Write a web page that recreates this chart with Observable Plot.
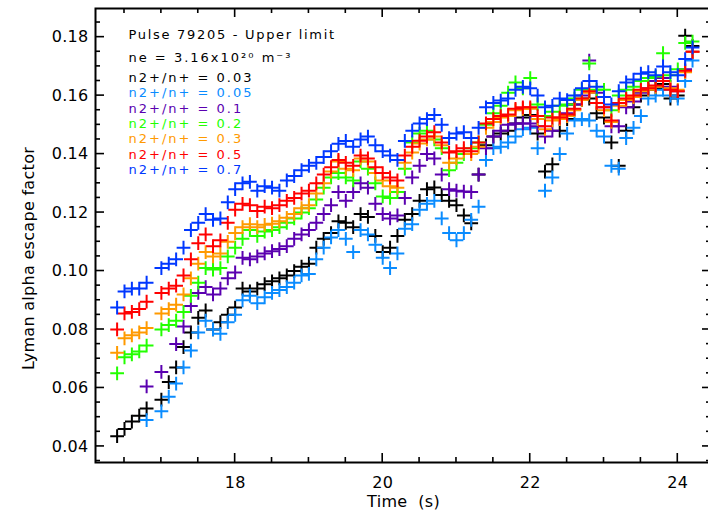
<!DOCTYPE html>
<html><head><meta charset="utf-8">
<script src="https://cdn.jsdelivr.net/npm/d3@7"></script>
<script src="https://cdn.jsdelivr.net/npm/@observablehq/plot@0.6"></script>
<style>
html,body{margin:0;padding:0;background:#fff;overflow:hidden;}
svg text{font-family:"DejaVu Sans",sans-serif;}
.leg text{letter-spacing:2px;}
.legt text{letter-spacing:1.7px;}
.legn text{letter-spacing:2px;}
.ticklab text{letter-spacing:0.3px;}
</style>
</head><body><div id="chart"></div>
<script>
const times = [16.4,16.5,16.6,16.7,16.8,16.9,
17.0,17.1,17.2,17.3,17.4,17.5,17.6,17.7,17.8,17.9,
18.0,18.1,18.2,18.3,18.4,18.5,18.6,18.7,18.8,18.9,
19.0,19.1,19.2,19.3,19.4,19.5,19.6,19.7,19.8,19.9,
20.0,20.1,20.2,20.3,20.4,20.5,20.6,20.7,20.8,20.9,
21.0,21.1,21.2,21.3,21.4,21.5,21.6,21.7,21.8,21.9,
22.0,22.1,22.2,22.3,22.4,22.5,22.6,22.7,22.8,22.9,
23.0,23.1,23.2,23.3,23.4,23.5,23.6,23.7,23.8,23.9,
24.0,24.1,24.2];

const ratios = ["0.03","0.05","0.1","0.2","0.3","0.5","0.7"];
const colors = ["#000000","#0a8cff","#5a00b0","#22ff00","#ff9a00","#ff0000","#0037ff"];

const s003 = [0.0435,0.0460,0.0485,0.0505,0.0530,null,
0.0560,0.0620,0.0670,0.0740,0.0790,0.0840,0.0865,0.0800,0.0825,0.0850,
0.0875,0.0940,0.0930,0.0940,0.0955,0.0965,0.0975,0.0985,0.1000,0.1015,
0.1025,0.1080,0.1110,0.1130,0.1170,0.1165,0.1150,0.1195,0.1185,0.1120,
0.1065,0.1080,0.1120,0.1175,0.1195,0.1240,0.1280,0.1286,0.1260,0.1240,
0.1225,0.1190,0.1163,0.1330,0.1430,0.1460,0.1470,0.1480,0.1505,0.1525,
0.1534,0.1470,0.1340,0.1365,0.1480,0.1520,0.1570,0.1585,0.1590,0.1540,
0.1525,0.1440,0.1360,0.1480,0.1560,0.1600,0.1620,0.1625,0.1640,0.1590,
0.1600,0.1805,0.1770];

const s005 = [null,null,null,null,0.0490,null,
0.0520,0.0570,0.0615,0.0670,0.0728,0.0790,0.0830,0.0800,0.0785,0.0825,
0.0850,0.0900,0.0915,0.0890,0.0910,0.0925,0.0935,0.0945,0.0960,0.0985,
0.0990,0.1040,0.1080,0.1115,0.1140,0.1110,0.1065,0.1140,0.1125,0.1090,
0.1045,0.1010,0.1060,0.1145,0.1160,0.1210,0.1230,0.1240,0.1180,0.1130,
0.1105,0.1130,0.1175,0.1220,0.1380,0.1420,0.1425,0.1440,0.1460,0.1485,
0.1490,0.1420,0.1275,0.1320,0.1400,0.1470,0.1515,0.1520,0.1515,0.1480,
0.1460,0.1360,0.1350,0.1455,0.1490,0.1530,0.1590,0.1600,0.1620,0.1600,
0.1590,0.1650,0.1720];

const s01 = [null,null,null,null,0.0605,null,
0.0655,null,0.0750,0.0810,0.0880,0.0925,0.0945,0.0920,0.0940,0.0975,
0.0995,0.1045,0.1040,0.1050,0.1060,0.1068,0.1075,0.1085,0.1110,0.1125,
0.1140,0.1165,0.1195,0.1225,0.1270,0.1240,0.1270,0.1300,0.1285,0.1230,
0.1195,0.1180,0.1190,0.1250,0.1320,0.1360,0.1400,0.1385,0.1330,0.1280,
0.1275,0.1272,0.1270,0.1330,0.1420,0.1460,0.1480,0.1500,0.1505,0.1505,
0.1505,0.1495,0.1460,0.1480,0.1520,0.1540,0.1570,0.1600,0.1720,0.1610,
0.1560,0.1495,0.1495,0.1560,0.1580,0.1610,0.1625,0.1650,0.1660,0.1630,
0.1615,0.1690,0.1750];

const s02 = [0.0650,0.0705,0.0715,0.0725,0.0745,null,
0.0800,0.0815,0.0830,0.0860,0.0915,0.0960,0.1010,0.1005,0.1010,0.1050,
0.1080,0.1110,0.1140,0.1120,0.1135,0.1140,0.1150,0.1165,0.1180,0.1200,
0.1215,0.1245,0.1285,0.1320,0.1335,0.1320,0.1310,0.1375,0.1350,0.1300,
0.1255,0.1250,0.1270,0.1350,0.1440,0.1470,0.1480,0.1450,0.1420,0.1345,
0.1370,0.1400,0.1420,0.1440,0.1500,0.1540,0.1565,0.1610,0.1645,0.1625,
0.1660,0.1570,0.1530,0.1545,0.1565,0.1570,0.1590,0.1620,0.1710,0.1620,
0.1620,0.1550,0.1600,0.1620,0.1630,0.1650,0.1660,0.1665,0.1745,0.1670,
0.1690,0.1780,0.1785];

const s03 = [0.0720,0.0770,0.0780,0.0790,0.0805,null,
0.0855,0.0870,0.0885,0.0920,0.0975,0.1025,0.1065,0.1050,0.1060,0.1100,
0.1130,0.1150,0.1160,0.1150,0.1158,0.1162,0.1170,0.1182,0.1195,0.1215,
0.1225,0.1265,0.1300,0.1340,0.1375,0.1350,0.1345,0.1385,0.1375,0.1335,
0.1310,0.1290,0.1285,0.1370,0.1405,0.1436,0.1450,0.1460,0.1430,0.1370,
0.1385,0.1410,0.1400,0.1425,0.1490,0.1510,0.1525,0.1530,0.1550,0.1555,
0.1555,0.1520,0.1485,0.1515,0.1520,0.1530,0.1550,0.1585,0.1610,0.1575,
0.1550,0.1510,0.1565,0.1585,0.1595,0.1615,0.1620,0.1630,0.1650,0.1625,
0.1620,0.1680,0.1750];

const s05 = [0.0800,0.0855,0.0860,0.0870,0.0895,null,
0.0925,0.0940,0.0950,0.0985,0.1040,0.1095,0.1125,0.1085,0.1105,0.1165,
0.1210,0.1230,0.1225,0.1205,0.1220,0.1215,0.1225,0.1240,0.1250,0.1265,
0.1275,0.1300,0.1330,0.1355,0.1380,0.1370,0.1360,0.1395,0.1385,0.1355,
0.1335,0.1320,0.1310,0.1395,0.1425,0.1446,0.1460,0.1475,0.1440,0.1405,
0.1410,0.1420,0.1410,0.1440,0.1505,0.1520,0.1530,0.1535,0.1555,0.1560,
0.1560,0.1530,0.1495,0.1525,0.1525,0.1535,0.1555,0.1590,0.1615,0.1575,
0.1560,0.1515,0.1575,0.1590,0.1600,0.1620,0.1625,0.1635,0.1650,0.1620,
0.1615,0.1685,0.1750];

const s07 = [0.0875,0.0930,0.0940,0.0940,0.0960,null,
0.1010,0.1025,0.1040,0.1080,0.1140,0.1165,0.1195,0.1175,0.1180,0.1235,
0.1280,0.1300,0.1305,0.1275,0.1290,0.1285,0.1275,0.1310,0.1325,0.1345,
0.1360,0.1370,0.1390,0.1410,0.1435,0.1445,0.1425,0.1450,0.1460,0.1430,
0.1410,0.1395,0.1380,0.1445,0.1480,0.1505,0.1520,0.1534,0.1500,0.1455,
0.1470,0.1475,0.1455,0.1490,0.1560,0.1575,0.1583,0.1590,0.1620,0.1630,
0.1625,0.1600,0.1560,0.1565,0.1590,0.1585,0.1600,0.1625,0.1650,0.1630,
0.1595,0.1570,0.1615,0.1645,0.1655,0.1675,0.1680,0.1670,0.1700,0.1680,
0.1670,0.1725,0.1765];

const seriesValues = [s003, s005, s01, s02, s03, s05, s07];

const xMajor = [18, 20, 22, 24];
const xMinor = [16.5,17,17.5,18.5,19,19.5,20.5,21,21.5,22.5,23,23.5];
const yMajor = [0.04,0.06,0.08,0.10,0.12,0.14,0.16,0.18];
const yMinor = [0.035,0.045,0.05,0.055,0.065,0.07,0.075,0.085,0.09,0.095,0.105,0.11,0.115,0.125,0.13,0.135,0.145,0.15,0.155,0.165,0.17,0.175,0.185];

const titleLine = "Pulse 79205 - Upper limit";
const densityLine = "ne = 3.16x10\u00b2\u2070 m\u207b\u00b3";
const xLabel = "Time\u00a0\u00a0(s)";
const yLabel = "Lyman alpha escape factor";

const rows = [];
ratios.forEach((r, i) => {
  times.forEach((t, j) => {
    const v = seriesValues[i][j];
    if (v != null) rows.push({t, v, r});
  });
});

const W = 708, H = 517, mL = 95, mR = -3, mT = 8, mB = 55;
const innerW = W - mL - mR, innerH = H - mT - mB;
const xDomain = [16.107, 24.457], yDomain = [0.0345, 0.1898];
const MAJ = 9, MIN = 5, TW = 1.6;
const dxPerPx = (xDomain[1] - xDomain[0]) / innerW;
const dyPerPx = (yDomain[1] - yDomain[0]) / innerH;

// tick marks as thin filled rectangles, placed through the x/y scales
function xTickRects(vals, len) {
  const hw = TW / 2 * dxPerPx, h = len * dyPerPx;
  const d = vals.flatMap(v => [
    {x1: v - hw, x2: v + hw, y1: yDomain[0], y2: yDomain[0] + h},
    {x1: v - hw, x2: v + hw, y1: yDomain[1] - h, y2: yDomain[1]}
  ]);
  return Plot.rect(d, {x1: "x1", x2: "x2", y1: "y1", y2: "y2", fill: "black"});
}
function yTickRects(vals, len) {
  const hh = TW / 2 * dyPerPx, w = len * dxPerPx;
  const d = vals.flatMap(v => [
    {y1: v - hh, y2: v + hh, x1: xDomain[0], x2: xDomain[0] + w},
    {y1: v - hh, y2: v + hh, x1: xDomain[1] - w, x2: xDomain[1]}
  ]);
  return Plot.rect(d, {x1: "x1", x2: "x2", y1: "y1", y2: "y2", fill: "black"});
}

const legendMarks = ratios.map((r, i) =>
  Plot.text([`n2+/n+ = ${r}`], {frameAnchor: "top-left", dx: 33, dy: 69 + 15.45 * i, text: d => d,
    textAnchor: "start", lineAnchor: "middle", fill: colors[i], fontSize: 13, className: "leg"})
);

const id = d => d;
const chart = Plot.plot({
  width: W, height: H,
  marginLeft: mL, marginRight: mR, marginTop: mT, marginBottom: mB,
  style: {background: "white", overflow: "hidden", fontFamily: "DejaVu Sans"},
  x: {domain: xDomain},
  y: {domain: yDomain},
  color: {domain: ratios, range: colors},
  marks: [
    Plot.dot(rows, {x: "t", y: "v", stroke: "r", symbol: "plus", r: 4.5, strokeWidth: 2}),
    Plot.axisX({ticks: xMajor, anchor: "bottom", tickSize: 0, tickPadding: 14, tickFormat: d => String(d), label: null, fontSize: 16, className: "ticklab"}),
    Plot.axisY({ticks: yMajor, anchor: "left", tickSize: 0, tickPadding: 7, tickFormat: d => d.toFixed(2), label: null, fontSize: 16, className: "ticklab"}),
    xTickRects(xMajor, MAJ), xTickRects(xMinor, MIN),
    yTickRects(yMajor, MAJ), yTickRects(yMinor, MIN),
    Plot.frame({stroke: "black", strokeWidth: 2}),
    Plot.text([xLabel], {frameAnchor: "bottom", dy: 39, text: id, fontSize: 16, textAnchor: "middle", lineAnchor: "middle", className: "ticklab"}),
    Plot.text([yLabel], {frameAnchor: "left", dx: -67, dy: 23, rotate: -90, text: id, fontSize: 16, textAnchor: "middle", lineAnchor: "middle", className: "ticklab"}),
    Plot.text([titleLine], {frameAnchor: "top-left", dx: 33, dy: 26, text: id, textAnchor: "start", lineAnchor: "middle", fontSize: 13, className: "legt"}),
    Plot.text([densityLine], {frameAnchor: "top-left", dx: 33, dy: 49, text: id, textAnchor: "start", lineAnchor: "middle", fontSize: 13, className: "legn"}),
    ...legendMarks
  ]
});
document.getElementById("chart").appendChild(chart);
</script>
</body></html>
